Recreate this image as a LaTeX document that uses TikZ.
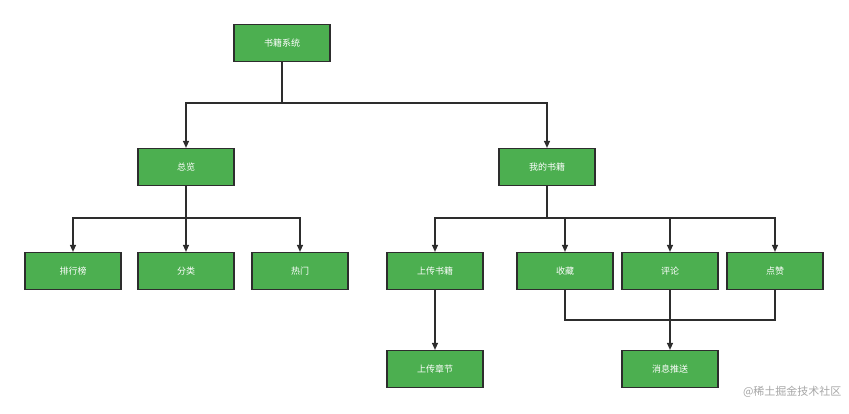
\documentclass[tikz,border=0pt]{standalone}
\usepackage{fontspec}
\setmainfont{Noto Sans CJK SC}
\usetikzlibrary{arrows.meta}
\definecolor{boxfill}{RGB}{76,175,80}
\definecolor{boxline}{RGB}{45,45,45}
\tikzset{
  box/.style={draw=boxline, fill=boxfill, line width=1.2pt, minimum width=96pt, minimum height=37pt, text=white, font=\fontsize{9}{10}\selectfont, inner sep=0pt},
  link/.style={draw=boxline, line width=1.2pt},
  arr/.style={link, -{Triangle[length=7pt,width=6pt]}}
}
\begin{document}
\begin{tikzpicture}[x=1pt,y=-1pt]
\useasboundingbox (0,0) rectangle (849,414);
% boxes
\node[box] (sys) at (282,43) {书籍系统};
\node[box] (all) at (186,167) {总览};
\node[box] (mine) at (547,167) {我的书籍};
\node[box] (rank) at (73,271) {排行榜};
\node[box] (cat) at (186,271) {分类};
\node[box] (hot) at (300,271) {热门};
\node[box] (up) at (435,271) {上传书籍};
\node[box] (fav) at (565,271) {收藏};
\node[box] (com) at (670,271) {评论};
\node[box] (like) at (775,271) {点赞};
\node[box] (chap) at (435,369) {上传章节};
\node[box] (push) at (670,369) {消息推送};
% connectors
\draw[arr] (sys.south) |- (234,103) -| (all.north);
\draw[arr] (sys.south) |- (400,103) -| (mine.north);
\draw[arr] (all.south) |- (120,218) -| (rank.north);
\draw[arr] (all.south) -- (cat.north);
\draw[arr] (all.south) |- (250,218) -| (hot.north);
\draw[arr] (mine.south) |- (490,218) -| (up.north);
\draw[arr] (mine.south) |- (560,218) -| (fav.north);
\draw[arr] (mine.south) |- (620,218) -| (com.north);
\draw[arr] (mine.south) |- (720,218) -| (like.north);
\draw[arr] (up.south) -- (chap.north);
\draw[link] (fav.south) |- (620,320) -| (like.south);
\draw[arr] (com.south) -- (push.north);
% watermark
\node[text=gray!70, font=\fontsize{11}{12}\selectfont, anchor=east] (mark) at (845,392) {@稀土掘金技术社区};
\end{tikzpicture}
\end{document}
